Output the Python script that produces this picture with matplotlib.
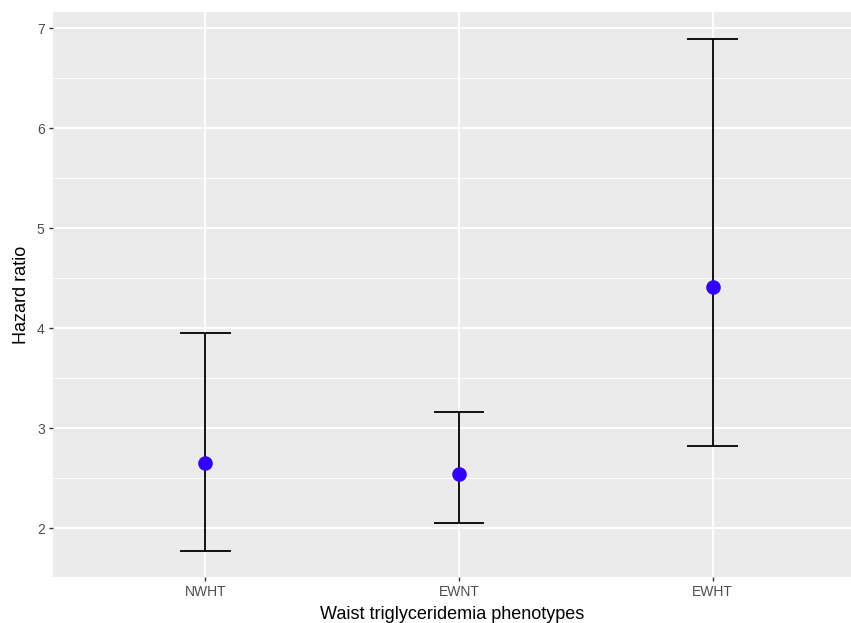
import matplotlib
matplotlib.use("Agg")
import matplotlib.pyplot as plt
from matplotlib.ticker import FixedLocator

categories = ["NWHT", "EWNT", "EWHT"]
hr = [2.65, 2.54, 4.41]
lower = [1.77, 2.05, 2.82]
upper = [3.95, 3.16, 6.89]

plt.rcParams['font.family'] = ['Liberation Sans', 'DejaVu Sans']

fig = plt.figure(figsize=(8.51, 6.23), dpi=100)
W, H = 851, 623
ax = fig.add_axes([53 / W, (H - 577) / H, (W - 53) / W, (577 - 12) / H])
ax.set_facecolor('#ebebeb')
for s in ax.spines.values():
    s.set_visible(False)

x = list(range(1, len(categories) + 1))
ax.set_xlim(0.4, 3.545)
ax.set_ylim(1.51, 7.16)

ax.yaxis.set_major_locator(FixedLocator([2, 3, 4, 5, 6, 7]))
ax.yaxis.set_minor_locator(FixedLocator([2.5, 3.5, 4.5, 5.5, 6.5]))
ax.set_xticks(x)
ax.set_xticklabels(categories)

ax.grid(which='major', color='white', linewidth=1.4)
ax.grid(which='minor', axis='y', color='white', linewidth=0.7)
ax.set_axisbelow(True)
ax.tick_params(which='major', direction='out', length=3, width=1, color='#333333',
               labelcolor='#4d4d4d', labelsize=10, pad=3)
ax.tick_params(which='minor', length=0)

for xi, lo, up in zip(x, lower, upper):
    ax.vlines(xi, lo, up, color='black', linewidth=1.3, zorder=3)
    ax.hlines([lo, up], xi - 0.1, xi + 0.1, color='black', linewidth=1.3, zorder=3)
ax.scatter(x, hr, s=110, color='#3300ff', zorder=4, linewidths=0)

ax.set_xlabel("Waist triglyceridemia phenotypes", fontsize=13, color='black', labelpad=5)
ax.set_ylabel("Hazard ratio", fontsize=13, color='black', labelpad=5)

fig.savefig("out.png", dpi=100)
